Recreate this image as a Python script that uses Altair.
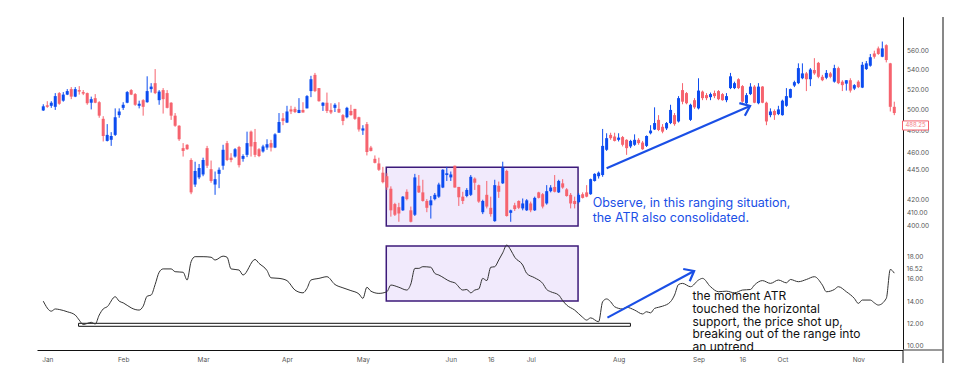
import altair as alt
import pandas as pd

# ---------------- data ----------------
opens = [499, 504, 503.5, 502.5, 516, 508.5, 514.5, 520, 512.5, 519, 517, 516, 506.5, 511, 507, 491, 470.5, 471.5, 476, 494.5,
         501.5, 506.5, 519, 515, 503.5, 509, 507, 520, 526, 509, 519, 516, 506.5, 494, 484.5, 464, 467, 453.5, 432.5, 438.5,
         441, 464, 445.5, 432.5, 441.5, 448.5, 468.5, 455.5, 456.5, 465, 454.5, 458, 479, 469.5, 463, 461, 464.5, 468.5, 464.5, 478,
         491.5, 487.5, 500, 500.5, 496.5, 499.5, 501, 518, 534.5, 521, 503.5, 506.5, 499.5, 501.5, 500.5, 494.5, 492.5, 498.5, 500.5, 492.5,
         480, 486, 464.5, 454.5, 450.5, 442.5, 439.5, 429, 416.5, 414, 411.5, 426.5, 411.5, 408, 431.5, 426, 419, 415.5, 420.5, 422.5,
         430, 440.5, 438.5, 448.5, 430.5, 422.5, 423, 424, 437.5, 432, 410, 424, 413.5, 403, 431.5, 433.5, 444, 409.5, 415.5, 419,
         413, 411.5, 417, 411.5, 426, 424.5, 417, 427, 430.5, 426, 433.5, 428.5, 424, 419, 418, 424.5, 426, 424.5, 435.5, 439.5,
         440.5, 462.5, 476, 474.5, 471.5, 474, 471.5, 465.5, 467, 471.5, 469, 466, 477.5, 481, 490, 483.5, 482, 487, 494.5, 488.5,
         519, 516, 490, 509, 501, 517.5, 514, 512, 516, 518, 515, 509, 521, 521, 530, 523, 506, 515, 522.5, 506,
         522.5, 506.5, 494.5, 498.5, 495.5, 494.5, 503.5, 511.5, 523.5, 526, 531, 536, 530, 539.5, 547, 532.5, 531.5, 536, 527.5, 541.5,
         527.5, 525.5, 529, 520.5, 527.5, 521.5, 540.5, 544, 557, 562.5, 553.5, 566, 546.5, 502.5]
highs = [505, 508, 508, 516, 517, 517, 520, 522, 522, 523, 519, 516.5, 512.5, 515, 508, 493.5, 486, 478.5, 501, 501,
         507, 518, 520, 516, 508.5, 510, 533, 526, 540.5, 519, 521, 519, 507, 496.5, 485, 468.5, 467.5, 455, 452, 450,
         455.5, 466, 453, 443.5, 447, 467, 470.5, 459.5, 464, 466, 458.5, 479, 480, 481.5, 464, 467, 472, 471.5, 477.5, 496.5,
         496.5, 503.5, 503.5, 502.5, 511, 507, 514, 533.5, 536.5, 521, 507, 516.5, 506, 506, 507, 495.5, 502.5, 504.5, 500.5, 493,
         485, 488, 466, 457.5, 455.5, 447.5, 442, 431, 417.5, 417.5, 423, 428.5, 414.5, 441.5, 440.5, 436.5, 420.5, 423, 425.5, 434,
         445.5, 447.5, 443.5, 448.5, 430.5, 426.5, 429.5, 440.5, 438.5, 432.5, 420, 435.5, 422.5, 436.5, 435, 452, 445, 412, 417.5, 419.5,
         421, 420.5, 418.5, 422.5, 426.5, 425.5, 432, 432, 440.5, 436.5, 437, 429.5, 425.5, 422.5, 425.5, 426, 432, 437.5, 442, 443.5,
         481.5, 477.5, 478, 478, 477.5, 475, 472, 471.5, 476.5, 473, 470.5, 475.5, 485, 502, 494.5, 486, 488, 504.5, 496.5, 513,
         526, 517, 505.5, 511, 531, 518.5, 516, 516.5, 518.5, 519, 516, 516, 536.5, 527.5, 531, 524, 516, 526, 524, 526,
         523, 507.5, 501, 500, 503.5, 509.5, 521, 520.5, 528.5, 546.5, 546.5, 537.5, 541.5, 552, 548, 534.5, 539.5, 537.5, 545, 543,
         529, 529, 531, 525, 529, 548, 549, 556.5, 560, 564.5, 570, 567, 547, 507.5]
lows = [498.5, 501.5, 501.5, 499.5, 504.5, 507.5, 514, 510, 512, 514.5, 514, 504.5, 500, 506, 492, 470, 470, 466, 475, 492,
        499.5, 506, 514, 503.5, 501, 494, 506.5, 516.5, 515, 504.5, 496, 501, 490, 483.5, 470.5, 456.5, 462.5, 424.5, 430.5, 437,
        439.5, 446.5, 434, 424, 429.5, 445, 452.5, 451.5, 455.5, 447, 452, 456, 456.5, 456, 456, 460, 462.5, 461, 464, 478,
        485, 487, 495.5, 496.5, 496.5, 497, 501, 512, 517, 507.5, 498.5, 496.5, 495.5, 497.5, 496.5, 485, 491.5, 494, 490, 479,
        476, 457.5, 461, 450.5, 444, 433.5, 428, 406.5, 407, 402.5, 411, 419.5, 402, 407, 425.5, 418.5, 410, 405, 419.5, 421.5,
        429.5, 435.5, 435.5, 430, 415, 416.5, 422, 423, 428, 417.5, 408.5, 413, 406.5, 402.5, 421.5, 433, 406.5, 402.5, 411, 412.5,
        411.5, 411, 410, 411, 421, 413, 416, 426, 426, 425.5, 429, 422.5, 413, 413, 417, 421, 422, 424, 435, 437.5,
        439, 461.5, 471.5, 470, 470, 465.5, 458, 464, 466, 467, 462.5, 465, 476.5, 480.5, 479.5, 477.5, 480.5, 486, 484.5, 487.5,
        505, 505, 489, 500.5, 500, 509, 509, 509, 511, 509, 508.5, 507, 520, 520, 520, 506.5, 505, 514, 506, 505,
        506, 485, 492.5, 490, 494.5, 494, 502.5, 511, 522, 525, 530, 518, 523, 534.5, 531, 528, 530, 531, 526.5, 525,
        518, 518.5, 516.5, 519, 521, 521, 539.5, 543, 551.5, 555.5, 553, 547.5, 498, 494.5]
closes = [503, 502.5, 506.5, 513, 505.5, 514.5, 518, 512.5, 520, 517.5, 515.5, 506, 510, 506.5, 494, 475, 476, 475, 492.5, 498,
          504.5, 517, 514.5, 504.5, 505.5, 502.5, 518, 522.5, 516, 517.5, 510, 501.5, 494, 484.5, 472, 461.5, 463, 426, 444, 446.5,
          453.5, 448.5, 435.5, 437, 445, 462.5, 453.5, 453.5, 463, 449, 457, 468.5, 465.5, 458, 457, 465.5, 467.5, 464.5, 476.5, 488,
          489, 498, 498, 497.5, 499.5, 497, 513, 530, 518, 508, 506.5, 498.5, 497, 504.5, 497, 489, 501.5, 494.5, 491, 481,
          482, 460.5, 461.5, 451, 445, 434.5, 430, 411.5, 408, 409, 422.5, 420.5, 402.5, 438.5, 426, 419, 413.5, 419.5, 424, 432.5,
          445, 442, 441, 430, 422, 419, 428, 439, 434, 418.5, 419, 414.5, 408.5, 432, 426.5, 447, 407, 411.5, 412.5, 413.5,
          417, 419.5, 411.5, 421.5, 421.5, 414.5, 427, 430, 426.5, 435.5, 430, 423, 417, 416.5, 424, 421.5, 422.5, 437, 441.5, 442.5,
          466, 473, 473, 470.5, 473.5, 467, 464, 470.5, 471.5, 468.5, 463, 475, 480, 487, 480.5, 479, 487, 499.5, 486, 511,
          507.5, 506, 504.5, 502, 518.5, 511, 511, 515, 513, 510, 509, 513, 533, 526, 521, 507.5, 514, 522.5, 506.5, 522.5,
          506.5, 488.5, 498, 494.5, 500, 508.5, 513, 520, 527, 541.5, 536, 530, 540, 536, 532.5, 529, 536.5, 532.5, 541.5, 526,
          524, 529, 518.5, 524, 522, 545, 546.5, 553, 553.5, 556.5, 562.5, 550, 502.5, 496.5]

atr_idx = [0, 2, 3, 4, 6, 8, 9, 10, 11, 12, 13, 14, 15, 16, 18, 19, 20, 22, 23, 24,
           25, 26, 27, 28, 29, 30, 32, 33, 35, 36, 37, 38, 40, 42, 43, 45, 46, 47, 49, 50,
           53, 54, 56, 57, 59, 61, 63, 65, 66, 67, 69, 71, 73, 75, 77, 79, 80, 81, 82, 84,
           86, 87, 89, 91, 92, 93, 94, 95, 97, 98, 99, 102, 103, 105, 106, 107, 108, 109, 110, 111,
           112, 113, 114, 115, 116, 117, 118, 120, 121, 123, 125, 126, 127, 129, 130, 131, 133, 135, 136, 137,
           139, 140, 141, 142, 143, 145, 146, 148, 150, 151, 152, 153, 154, 155, 157, 158, 159, 160, 162, 164,
           165, 167, 169, 171, 173, 175, 177, 178, 180, 182, 184, 186, 187, 189, 191, 193, 195, 196, 198, 199,
           201, 203, 204, 205, 207, 208, 209, 211, 212, 213]
atr_val = [14.0, 13.1, 13.3, 13.25, 13.05, 12.75, 12.3, 11.9, 12.0, 12.1, 11.95, 12.75, 13.3, 13.5, 14.4, 14.0, 13.85, 13.4, 13.25, 13.2,
           13.55, 14.45, 14.55, 15.5, 16.6, 16.9, 16.9, 16.65, 16.6, 15.9, 17.55, 18.0, 18.0, 17.95, 17.7, 18.05, 17.95, 16.9, 16.8, 16.35,
           17.75, 17.4, 16.75, 16.1, 16.05, 15.85, 15.0, 14.75, 15.15, 15.9, 16.05, 16.2, 15.5, 15.2, 14.95, 14.65, 14.25, 15.25, 14.9, 14.7,
           14.85, 15.45, 15.25, 15.0, 15.55, 16.95, 16.95, 17.1, 17.05, 16.5, 16.35, 15.75, 15.65, 15.0, 15.05, 14.75, 15.0, 15.1, 16.05, 15.85,
           17.05, 17.1, 17.7, 18.35, 19.05, 18.6, 17.95, 17.25, 16.5, 16.1, 15.6, 15.05, 14.85, 14.55, 14.05, 13.65, 13.2, 12.55, 12.3, 12.5,
           12.15, 13.95, 14.2, 13.95, 13.5, 13.3, 13.45, 13.2, 12.85, 13.05, 12.95, 13.35, 13.45, 13.55, 13.95, 14.55, 15.5, 15.6, 15.3, 15.9,
           16.05, 15.3, 14.85, 14.9, 14.75, 15.0, 15.05, 15.45, 15.85, 15.6, 15.9, 15.65, 15.95, 15.75, 15.95, 16.2, 15.45, 14.85, 15.05, 15.3,
           14.85, 14.25, 13.8, 14.1, 14.1, 13.85, 13.65, 14.25, 16.85, 16.52]

month_pos = [1, 20, 40, 61, 80, 102, 112, 122, 144, 164, 175, 185, 204]
month_lbl = ["Jan", "Feb", "Mar", "Apr", "May", "Jun", "16", "Jul", "Aug", "Sep", "16", "Oct", "Nov"]

price_ticks = [400, 410, 420, 445, 460, 480, 500, 520, 540, 560]
atr_ticks = [10, 12, 14, 16, 18]
last_price_label = "488.25"
last_atr_label = "16.52"

# annotation geometry (in data units)
range_box_x = [85.85, 133.85]
range_box_price = [447.2, 399.2]
range_box_atr = [18.96, 14.02]
support_x = [8.83, 146.96]
support_atr = [12.01, 11.74]
arrow_price = {"x": 141.0, "y": 446.3, "x2": 176.9, "y2": 503.3}
arrow_atr = {"x": 141.2, "y": 12.52, "x2": 162.9, "y2": 16.71}
note_blue = "Observe, in this ranging situation,\nthe ATR also consolidated."
note_blue_pos = (137.5, 414.1)
note_black = "the moment ATR\ntouched the horizontal\nsupport, the price shot up,\nbreaking out of the range into\nan uptrend"
note_black_pos = (162.5, 14.11)

# ---------------- chart ----------------
W, H = 866, 333
X_DOMAIN = [-0.32, 213.93]
PRICE_DOMAIN = [314.24, 597.65]
ATR_DOMAIN = [9.61, 39.55]
BLUE = "#0c4cf0"
RED = "#f6636e"
ARROW = "#1a4fe6"
FONT = "Inter"

candles = pd.DataFrame({"i": list(range(len(opens))), "open": opens, "high": highs,
                        "low": lows, "close": closes})
candles["dir"] = ["up" if c >= o else "down" for o, c in zip(opens, closes)]
atr = pd.DataFrame({"i": atr_idx, "atr": atr_val})

label_expr = " : ".join(f"datum.value == {p} ? '{l}'" for p, l in zip(month_pos, month_lbl)) + " : ''"

x_axis = alt.Axis(values=month_pos, labelExpr=label_expr, title=None, grid=False, ticks=False,
                  domainColor="#111", domainWidth=1, labelFont=FONT, labelFontSize=6.5,
                  labelColor="#555", labelPadding=6)
x_scale = alt.Scale(domain=X_DOMAIN, nice=False, zero=False)

price_axis = alt.Axis(orient="right", values=price_ticks, format=".2f", title=None, grid=False,
                      ticks=False, domainColor="#111", domainWidth=1, labelFont=FONT,
                      labelFontSize=6.5, labelColor="#555", labelPadding=3.5)
price_scale = alt.Scale(type="log", domain=PRICE_DOMAIN, nice=False, zero=False)

atr_axis = alt.Axis(orient="right", values=atr_ticks, format=".2f", title=None, grid=False,
                    ticks=False, domainColor="#111", domainWidth=1, labelFont=FONT,
                    labelFontSize=6.5, labelColor="#555", labelPadding=3.5)
atr_scale = alt.Scale(domain=ATR_DOMAIN, nice=False, zero=False)

color = alt.Color("dir:N", scale=alt.Scale(domain=["up", "down"], range=[BLUE, RED]), legend=None)


def X(field):
    return alt.X(field, scale=x_scale, axis=x_axis)


def PY(field):
    return alt.Y(field, scale=price_scale, axis=price_axis)


def AY(field):
    return alt.Y(field, scale=atr_scale, axis=atr_axis)


# price panel
box_df = pd.DataFrame({"x": [range_box_x[0]], "x2": [range_box_x[1]],
                       "y": [range_box_price[0]], "y2": [range_box_price[1]]})
range_box = alt.Chart(box_df).mark_rect(fill="#f1eafc", stroke="#3c1a7a", strokeWidth=1.5).encode(
    x=X("x:Q"), x2="x2:Q", y=PY("y:Q"), y2="y2:Q")

wicks = alt.Chart(candles).mark_rule(strokeWidth=1).encode(
    x=X("i:Q"), y=PY("low:Q"), y2="high:Q", color=color)
bodies = alt.Chart(candles).mark_bar(size=3).encode(
    x=X("i:Q"), y=PY("open:Q"), y2="close:Q", color=color)

arr_p_df = pd.DataFrame([arrow_price])
arr_p_line = alt.Chart(arr_p_df).mark_rule(color=ARROW, strokeWidth=2.2).encode(
    x=X("x:Q"), y=PY("y:Q"), x2="x2:Q", y2="y2:Q")
arr_p_head = alt.Chart(arr_p_df).mark_point(
    shape="M-1,-0.8L0,0L-1,0.8", filled=False, stroke=ARROW, strokeWidth=2.2, size=300,
    angle=336.7, opacity=1).encode(x=X("x2:Q"), y=PY("y2:Q"))

blue_df = pd.DataFrame({"x": [note_blue_pos[0]], "y": [note_blue_pos[1]], "t": [note_blue]})
blue_text = alt.Chart(blue_df).mark_text(
    align="left", baseline="alphabetic", lineBreak="\n", lineHeight=14.5, font=FONT,
    fontSize=12.5, color=ARROW).encode(x=X("x:Q"), y=PY("y:Q"), text="t:N")

tag_df = pd.DataFrame({"y": [489.0], "y2": [480.5], "mid": [484.8], "t": [last_price_label]})
tag_box = alt.Chart(tag_df).mark_rect(fill="white", stroke="#f2606c", strokeWidth=1).encode(
    x=alt.value(W - 0.5), x2=alt.value(W + 25.5), y=PY("y:Q"), y2="y2:Q")
tag_text = alt.Chart(tag_df).mark_text(font=FONT, fontSize=6, color="#f47c86", align="center",
                                       baseline="middle").encode(
    x=alt.value(W + 12.5), y=PY("mid:Q"), text="t:N")

price_layer = alt.layer(range_box, wicks, bodies, arr_p_line, arr_p_head, blue_text, tag_box, tag_text)

# ATR panel
abox_df = pd.DataFrame({"x": [range_box_x[0]], "x2": [range_box_x[1]],
                        "y": [range_box_atr[0]], "y2": [range_box_atr[1]]})
atr_box = alt.Chart(abox_df).mark_rect(fill="#f1eafc", stroke="#3c1a7a", strokeWidth=1.5).encode(
    x=X("x:Q"), x2="x2:Q", y=AY("y:Q"), y2="y2:Q")
sup_df = pd.DataFrame({"x": [support_x[0]], "x2": [support_x[1]],
                       "y": [support_atr[0]], "y2": [support_atr[1]]})
support = alt.Chart(sup_df).mark_rect(fill="white", stroke="#111", strokeWidth=1).encode(
    x=X("x:Q"), x2="x2:Q", y=AY("y:Q"), y2="y2:Q")
atr_line = alt.Chart(atr).mark_line(color="#333", strokeWidth=1, interpolate="monotone").encode(
    x=X("i:Q"), y=AY("atr:Q"))

arr_a_df = pd.DataFrame([arrow_atr])
arr_a_line = alt.Chart(arr_a_df).mark_rule(color=ARROW, strokeWidth=2.2).encode(
    x=X("x:Q"), y=AY("y:Q"), x2="x2:Q", y2="y2:Q")
arr_a_head = alt.Chart(arr_a_df).mark_point(
    shape="M-1,-0.8L0,0L-1,0.8", filled=False, stroke=ARROW, strokeWidth=2.2, size=300,
    angle=332, opacity=1).encode(x=X("x2:Q"), y=AY("y2:Q"))

black_df = pd.DataFrame({"x": [note_black_pos[0]], "y": [note_black_pos[1]], "t": [note_black]})
black_text = alt.Chart(black_df).mark_text(
    align="left", baseline="alphabetic", lineBreak="\n", lineHeight=12.8, font=FONT,
    fontSize=12, color="#111", clip=True).encode(x=X("x:Q"), y=AY("y:Q"), text="t:N")

atr_tag_df = pd.DataFrame({"y": [16.52], "t": [last_atr_label]})
atr_tag = alt.Chart(atr_tag_df).mark_text(font=FONT, fontSize=6.5, color="#555", align="left",
                                          baseline="middle", dy=-4).encode(
    x=alt.value(W + 3.5), y=AY("y:Q"), text="t:N")

atr_layer = alt.layer(atr_box, support, atr_line, arr_a_line, arr_a_head, black_text, atr_tag)

# frame lines of the right-hand scale box
frame_df = pd.DataFrame({"k": [0]})
frame_right = alt.Chart(frame_df).mark_rule(color="#111", strokeWidth=1).encode(
    x=alt.value(W + 40), y=alt.value(0), y2=alt.value(H + 13))
frame_mid = alt.Chart(frame_df).mark_rule(color="#111", strokeWidth=1).encode(
    x=alt.value(W), y=alt.value(H), y2=alt.value(H + 13))
frame_base = alt.Chart(frame_df).mark_rule(color="#777", strokeWidth=1.5).encode(
    x=alt.value(W), x2=alt.value(W + 40), y=alt.value(H))

chart = alt.layer(price_layer, atr_layer, frame_right, frame_mid, frame_base).resolve_scale(
    y="independent").properties(
    width=W, height=H,
    background="white",
    padding={"left": 29, "top": 9, "right": 49, "bottom": 24},
    autosize=alt.AutoSizeParams(type="none"),
).configure_view(stroke=None)

chart.save("out.html", embed_options={"renderer": "svg", "actions": False})
